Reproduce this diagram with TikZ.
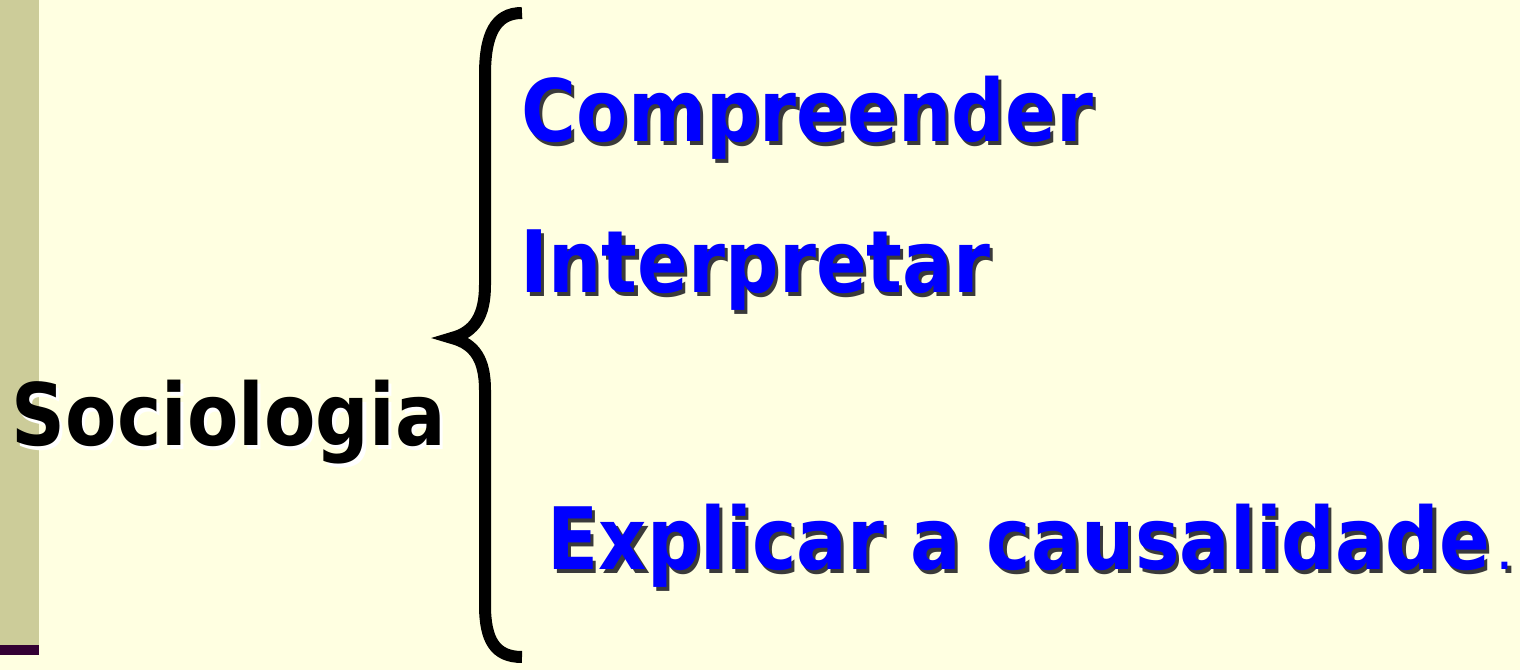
\documentclass[tikz,border=0pt]{standalone}
\usepackage{fontspec}
\setmainfont{DejaVu Sans}[FakeStretch=0.87]
\usetikzlibrary{positioning}
\definecolor{slidebg}{HTML}{FFFFE1}
\definecolor{strip}{HTML}{CCCC99}
\definecolor{stripline}{HTML}{330033}
\definecolor{shadowgray}{HTML}{3A3A3A}
\newcommand{\shad}[2]{\rlap{\hspace{0.9pt}\raisebox{-0.9pt}{\color{#1}#2}}#2}

\begin{document}
\begin{tikzpicture}[item/.style={anchor=base west, inner sep=0pt, text=blue, font=\bfseries\fontsize{24.5}{29}\selectfont},topic/.style={anchor=base west, inner sep=0pt, font=\bfseries\fontsize{24.5}{29}\selectfont}]
  \useasboundingbox (0,0) rectangle (15.2,6.7);
  \fill[slidebg] (0,0) rectangle (15.2,6.7);
  \fill[strip] (0,0.25) rectangle (0.39,6.7);
  \fill[stripline] (0,0.15) rectangle (0.39,0.25);

  \node[topic] (soc) at (0.11,2.24) {\shad{white}{Sociologia}};

  \node[item] (comp) at (5.21,5.28) {\shad{shadowgray}{Compreender}};
  \node[item] (interp) at (5.20,3.77) {\shad{shadowgray}{Interpretar}};
  \node[item] (expl) at (5.47,1.00) {\shad{shadowgray}{Explicar a causalidade\kern2.5pt{\fontsize{11}{13}\selectfont.}}};

  \draw[line width=0.12cm] (5.22,6.57) .. controls (4.95,6.57) and (4.85,6.35) .. (4.85,5.95) -- (4.85,3.85)
    .. controls (4.85,3.55) and (4.75,3.38) .. (4.52,3.32)
    .. controls (4.75,3.26) and (4.85,3.1) .. (4.85,2.8) -- (4.85,0.65)
    .. controls (4.85,0.3) and (4.95,0.13) .. (5.22,0.13);
 \end{tikzpicture}
\end{document}
